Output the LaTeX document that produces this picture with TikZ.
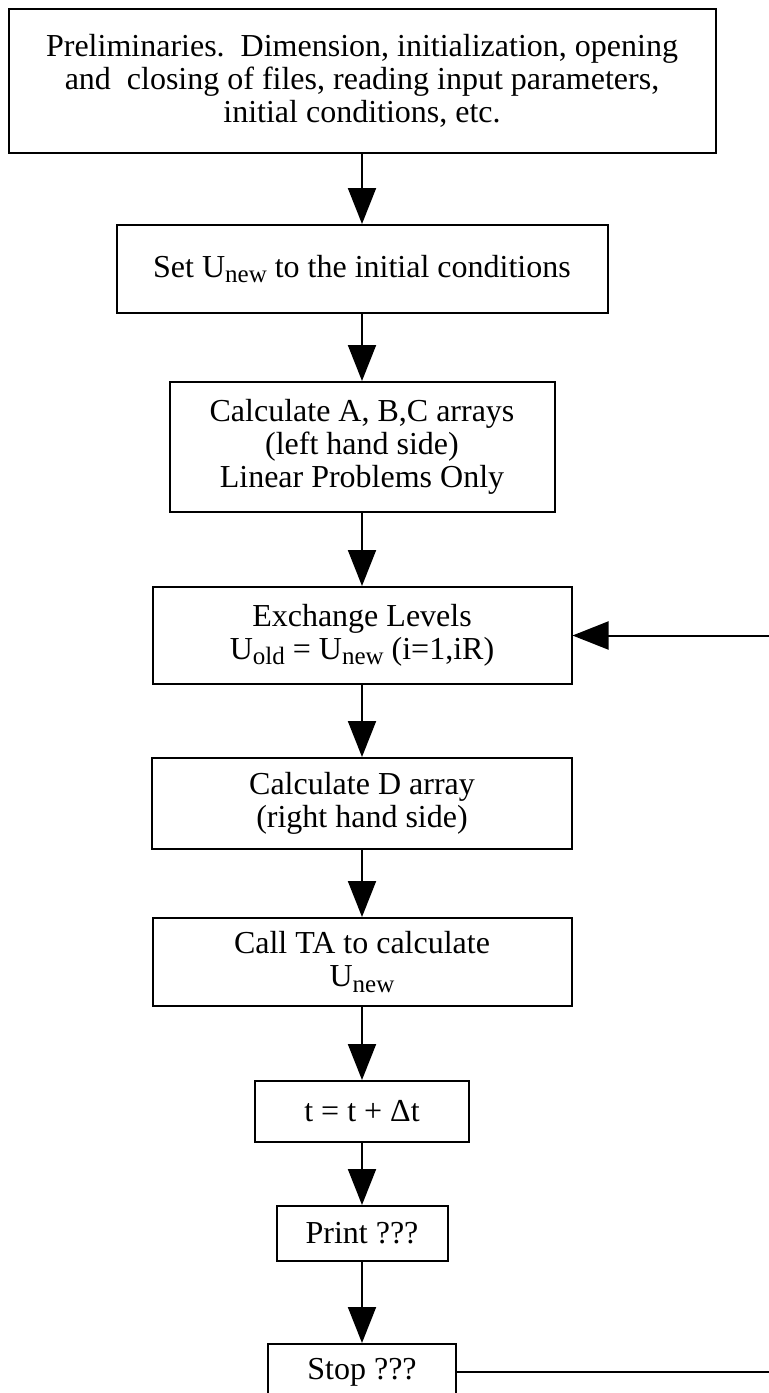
\documentclass[tikz,border=0pt]{standalone}
\usepackage{fontspec}
\setmainfont{Liberation Serif}
\usetikzlibrary{arrows.meta}
\newcommand{\lowsub}[1]{\raisebox{-0.35ex}{\fontsize{12.5}{12.5}\selectfont #1}}
\begin{document}
\begin{tikzpicture}[>={Triangle[length=18pt,width=14pt]}, x=0.5pt, y=-0.5pt, line width=1pt,
    box/.style={draw, line width=1pt, align=center, inner sep=0pt, font=\fontsize{16}{16.5}\selectfont}]
  \useasboundingbox (0,0) rectangle (769,1393);
  \clip (0,0) rectangle (769,1393);

\node[box, minimum width=353.5pt, minimum height=72pt] (prelim) at (362,81)
  {Preliminaries.\ \ Dimension, initialization, opening\\and\ \ closing of files, reading input parameters,\\initial conditions, etc.};
\node[box, minimum width=245.5pt, minimum height=44pt] (setu) at (362,269)
  {Set U\lowsub{new} to the initial conditions};
\node[box, minimum width=192.5pt, minimum height=65pt] (abc) at (362,447)
  {Calculate A, B,C arrays\\(left hand side)\\Linear Problems Only};
\node[box, minimum width=209.5pt, minimum height=48.5pt] (exch) at (362,635.5)
  {Exchange Levels\\U\lowsub{old} = U\lowsub{new} (i=1,iR)};
\node[box, minimum width=210pt, minimum height=45.5pt] (darr) at (362,803.5)
  {Calculate D array\\(right hand side)};
\node[box, minimum width=209.5pt, minimum height=44pt] (callta) at (362,962)
  {Call TA to calculate\\U\lowsub{new}};
\node[box, minimum width=107pt, minimum height=30.5pt] (tstep) at (362,1111.5)
  {t = t + Δt};
\node[box, minimum width=85.5pt, minimum height=27.5pt] (print) at (362,1233.5)
  {Print ???};
\node[box, minimum width=94pt, minimum height=28pt] (stop) at (362,1372)
  {Stop ???};

\draw[->] (prelim) -- (setu);
\draw[->] (setu) -- (abc);
\draw[->] (abc) -- (exch);
\draw[->] (exch) -- (darr);
\draw[->] (darr) -- (callta);
\draw[->] (callta) -- (tstep);
\draw[->] (tstep) -- (print);
\draw[->] (print) -- (stop);

% loop back, cut at the right edge
\coordinate (loopin) at (769,635.5);
\coordinate (loopout) at (769,1372);
\draw[->] (loopin) -- (exch);
\draw (stop) -- (loopout);
\end{tikzpicture}
\end{document}
